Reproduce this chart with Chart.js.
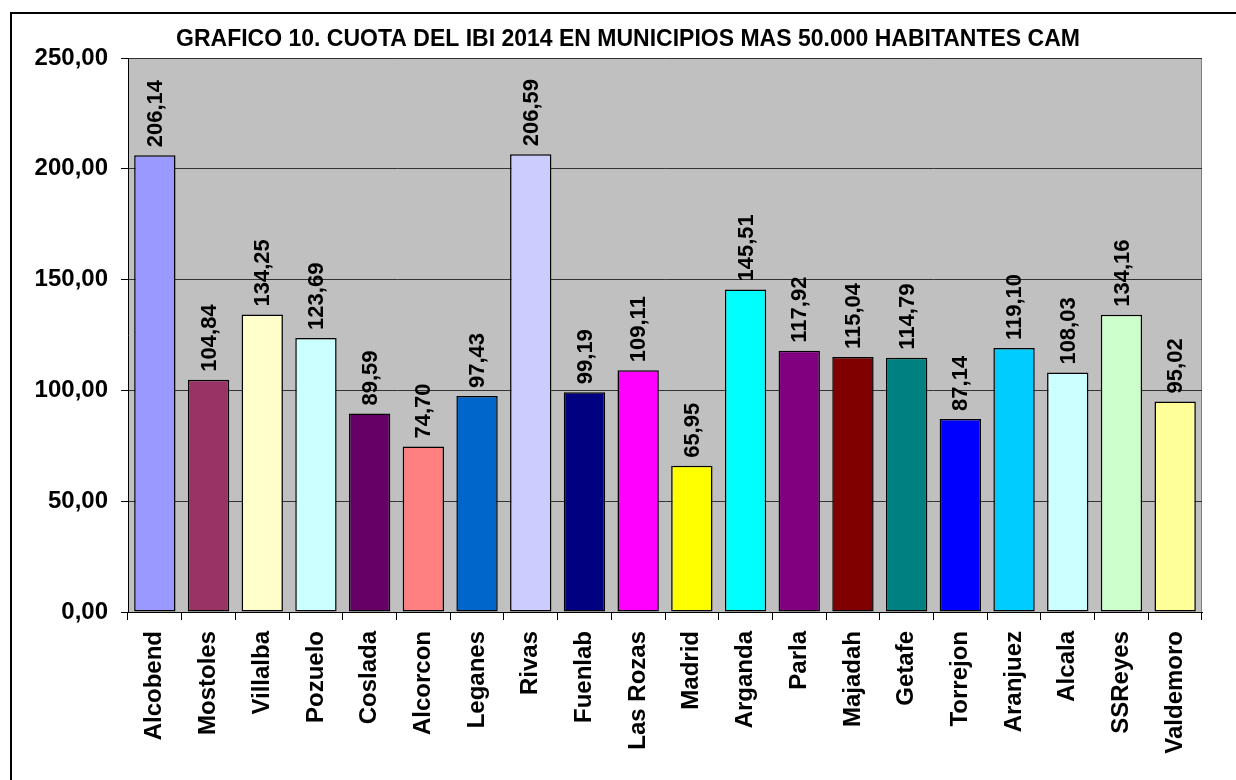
<!DOCTYPE html>
<html>
<head>
<meta charset="utf-8">
<script src="https://cdn.jsdelivr.net/npm/chart.js@4/dist/chart.umd.min.js"></script>
<style>
    html, body { margin: 0; padding: 0; background: #fff; overflow: hidden; }
    #wrap { position: relative; width: 1236px; height: 780px; }
    #frame { position: absolute; left: 10px; top: 12px; width: 1300px; height: 900px; border: 2px solid #000; box-sizing: border-box; }
    canvas { position: absolute; left: 0; top: 0; }
</style>
</head>
<body>
<div id="wrap">
    <div id="frame"></div>
    <canvas id="chart" width="1236" height="780"></canvas>
</div>
<script>
// Data
const municipios = ['Alcobend', 'Mostoles', 'Villalba', 'Pozuelo', 'Coslada', 'Alcorcon', 'Leganes', 'Rivas',
    'Fuenlab', 'Las Rozas', 'Madrid', 'Arganda', 'Parla', 'Majadah', 'Getafe', 'Torrejon', 'Aranjuez',
    'Alcala', 'SSReyes', 'Valdemoro'];
const cuota = [206.14, 104.84, 134.25, 123.69, 89.59, 74.70, 97.43, 206.59, 99.19, 109.11, 65.95,
    145.51, 117.92, 115.04, 114.79, 87.14, 119.10, 108.03, 134.16, 95.02];
const barColors = ['#9999FF', '#993366', '#FFFFCC', '#CCFFFF', '#660066', '#FF8080', '#0066CC', '#CCCCFF',
    '#000080', '#FF00FF', '#FFFF00', '#00FFFF', '#800080', '#800000', '#008080', '#0000FF', '#00CCFF',
    '#CCFFFF', '#CCFFCC', '#FFFF99'];
const yTicks = [0, 50, 100, 150, 200, 250];
const titulo = 'GRAFICO 10. CUOTA DEL IBI 2014 EN MUNICIPIOS MAS 50.000 HABITANTES CAM';

const FONT = "'Liberation Sans', Arial, sans-serif";

function fmt(v) {
    return v.toFixed(2).replace('.', ',');
}

// grey plot background with a thin border, plus the title
const plotBackground = {
    id: 'plotBackground',
    beforeDraw(chart) {
        const a = chart.chartArea;
        const ctx = chart.ctx;
        ctx.save();
        ctx.fillStyle = '#C0C0C0';
        ctx.fillRect(a.left, a.top, a.right - a.left, a.bottom - a.top);
        ctx.strokeStyle = '#808080';
        ctx.lineWidth = 1;
        ctx.strokeRect(a.left + 0.5, a.top + 0.5, a.right - a.left - 1, a.bottom - a.top);

        // title sits a bit left of the plot centre, like the original
        ctx.fillStyle = '#000';
        ctx.font = 'bold 23px ' + FONT;
        ctx.textAlign = 'center';
        ctx.textBaseline = 'middle';
        ctx.fillText(titulo, a.left + 500, a.top - 18);
        ctx.restore();
    }
};

// vertical value labels on top of each bar
const barValues = {
    id: 'barValues',
    afterDatasetsDraw(chart) {
        const ctx = chart.ctx;
        const meta = chart.getDatasetMeta(0);
        ctx.save();
        ctx.fillStyle = '#000';
        ctx.font = 'bold 22px ' + FONT;
        ctx.textAlign = 'left';
        ctx.textBaseline = 'middle';
        meta.data.forEach((bar, i) => {
            ctx.save();
            ctx.translate(bar.x + 1, bar.y - 8);
            ctx.rotate(-Math.PI / 2);
            ctx.fillText(fmt(cuota[i]), 0, 0);
            ctx.restore();
        });
        ctx.restore();
    }
};

new Chart(document.getElementById('chart'), {
    type: 'bar',
    data: {
        labels: municipios,
        datasets: [{
            data: cuota,
            backgroundColor: barColors,
            borderColor: '#000',
            borderWidth: 1.5,
            borderSkipped: false,
            barPercentage: 0.77,
            categoryPercentage: 1.0
        }]
    },
    options: {
        responsive: false,
        animation: false,
        layout: { padding: { left: 10, right: 34, top: 58, bottom: 0 } },
        plugins: {
            legend: { display: false },
            tooltip: { enabled: false },
            title: { display: false }
        },
        scales: {
            x: {
                afterFit(scale) { scale.height = 168; },
                border: { color: '#000', width: 1 },
                grid: { drawOnChartArea: false, drawTicks: true, tickLength: 8, color: '#000', offset: true },
                ticks: {
                    color: '#000',
                    font: { family: FONT, size: 24, weight: 'bold' },
                    minRotation: 90,
                    maxRotation: 90,
                    padding: 11,
                    autoSkip: false
                }
            },
            y: {
                min: 0,
                max: 250,
                afterFit(scale) { scale.width = 118; },
                afterBuildTicks(scale) { scale.ticks = yTicks.map(v => ({ value: v })); },
                border: { color: '#000', width: 1 },
                grid: { color: '#333', lineWidth: 1, drawTicks: true, tickLength: 7, tickColor: '#000' },
                ticks: {
                    color: '#000',
                    font: { family: FONT, size: 24, weight: 'bold' },
                    padding: 13,
                    callback: v => fmt(v)
                }
            }
        }
    },
    plugins: [plotBackground, barValues]
});
</script>
</body>
</html>
